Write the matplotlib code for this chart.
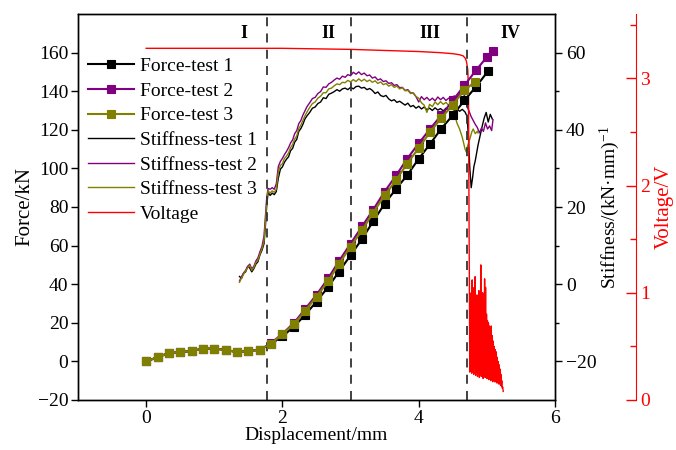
import numpy as np
import matplotlib
matplotlib.use('Agg')
import matplotlib.pyplot as plt

plt.rcParams['font.family'] = ['Liberation Serif', 'DejaVu Serif']
plt.rcParams['mathtext.fontset'] = 'custom'
plt.rcParams['mathtext.rm'] = 'Liberation Serif'
plt.rcParams['mathtext.it'] = 'Liberation Serif:italic'

# ---------------------------------------------------------------- data
# force curves (markers every ~1/6 mm)
x_f1 = [0, 0.17, 0.33, 0.5, 0.67, 0.83, 1.0, 1.17, 1.33, 1.5, 1.67, 1.83,
        2.0, 2.17, 2.33, 2.5, 2.67, 2.83, 3.0, 3.17, 3.33, 3.5, 3.67, 3.83,
        4.0, 4.17, 4.33, 4.5, 4.67, 4.84, 5.02]
force1 = [0, 2.2, 4.3, 4.8, 5.4, 6.6, 6.6, 6.0, 4.8, 5.4, 6.0, 9.0,
          13.0, 18.0, 24.0, 31.0, 38.5, 46.5, 55.0, 63.5, 72.5, 81.7, 89.5,
          96.4, 105.0, 112.8, 120.6, 127.5, 135.2, 142.3, 150.5]

x_f2 = [0, 0.17, 0.33, 0.5, 0.67, 0.83, 1.0, 1.17, 1.33, 1.5, 1.67, 1.83,
        2.0, 2.17, 2.33, 2.5, 2.67, 2.83, 3.0, 3.17, 3.33, 3.5, 3.67, 3.83,
        4.0, 4.17, 4.33, 4.5, 4.67, 4.84, 5.0, 5.09]
force2 = [0, 2.2, 4.3, 4.8, 5.4, 6.6, 6.6, 6.0, 4.8, 5.4, 6.0, 9.4,
          14.3, 20.0, 27.0, 34.5, 43.0, 52.0, 61.0, 70.0, 78.5, 88.0, 96.4,
          105.0, 113.0, 120.6, 127.5, 135.2, 143.0, 150.8, 157.7, 161.0]

x_f3 = [0, 0.17, 0.33, 0.5, 0.67, 0.83, 1.0, 1.17, 1.33, 1.5, 1.67, 1.83,
        2.0, 2.17, 2.33, 2.5, 2.67, 2.83, 3.0, 3.17, 3.33, 3.5, 3.67, 3.83,
        4.0, 4.17, 4.33, 4.5, 4.67, 4.83]
force3 = [0, 2.2, 4.3, 4.8, 5.4, 6.6, 6.6, 6.0, 4.8, 5.4, 6.0, 9.2,
          14.0, 19.5, 26.0, 33.5, 41.5, 50.5, 59.5, 68.0, 77.0, 86.0, 94.0,
          102.5, 110.5, 119.0, 126.0, 133.0, 140.5, 145.0]

# stiffness curves
x_s = [1.37, 1.40, 1.43, 1.46, 1.49, 1.52, 1.55, 1.58, 1.61, 1.64, 1.67,
       1.70, 1.73, 1.75, 1.77, 1.79, 1.82, 1.85, 1.88, 1.91, 1.94, 1.97,
       2.00, 2.03, 2.06, 2.09, 2.12, 2.15, 2.18, 2.21, 2.24, 2.27, 2.30,
       2.33, 2.36, 2.40, 2.44, 2.48, 2.52, 2.56, 2.60, 2.64, 2.68, 2.72,
       2.76, 2.80, 2.84, 2.88, 2.92, 2.96, 3.00, 3.04, 3.08, 3.12, 3.16,
       3.20, 3.24, 3.28, 3.32, 3.36, 3.40, 3.44, 3.48, 3.52, 3.56, 3.60,
       3.64, 3.68, 3.72, 3.76, 3.80, 3.84, 3.88, 3.92, 3.96, 4.00, 4.04,
       4.08, 4.12, 4.16, 4.20, 4.24, 4.28, 4.32, 4.36, 4.40, 4.44, 4.48,
       4.52, 4.56, 4.60, 4.64, 4.68]

stiff1_main = [2.0, 1.5, 2.8, 3.2, 4.6, 4.2, 3.2, 4.0, 5.2, 5.8, 7.6,
               8.8, 10.5, 15.0, 20.5, 23.8, 23.0, 23.6, 23.2, 24.0, 27.5, 29.8,
               30.4, 31.6, 32.4, 33.0, 34.6, 35.2, 36.8, 37.5, 39.6, 40.3, 41.4,
               42.8, 43.6, 44.5, 45.6, 45.9, 46.8, 47.2, 48.3, 48.1, 49.2, 49.5,
               49.9, 50.4, 50.0, 50.6, 50.8, 50.4, 51.0, 50.6, 51.2, 51.3, 50.8,
               51.0, 50.4, 50.7, 50.2, 49.4, 49.8, 48.9, 48.6, 48.9, 48.0, 47.5,
               47.8, 47.1, 47.4, 46.9, 46.4, 46.9, 46.0, 46.3, 45.6, 46.1, 45.4,
               45.9, 45.2, 45.6, 45.0, 45.7, 45.1, 45.5, 44.9, 45.6, 45.2, 45.8,
               45.0, 45.4, 44.8, 45.3, 44.6]
x_s1_end = [4.71, 4.73, 4.75, 4.77, 4.79, 4.81, 4.83, 4.85, 4.87, 4.90,
            4.93, 4.96, 4.99, 5.02, 5.05, 5.08]
stiff1_end = [43.5, 38.0, 30.0, 25.0, 27.5, 30.5, 32.0, 34.0, 36.0, 38.4,
              40.8, 43.0, 44.5, 42.0, 44.0, 42.8]

stiff2_main = [0.8, 2.0, 2.9, 3.6, 4.6, 5.2, 4.0, 4.6, 6.0, 6.8, 8.4,
               9.8, 12.5, 17.5, 22.5, 24.8, 24.6, 25.0, 24.6, 26.0, 30.5, 31.8,
               32.6, 33.6, 34.4, 35.4, 36.6, 37.4, 39.0, 39.8, 41.6, 42.4, 43.8,
               44.9, 46.0, 47.0, 48.1, 48.4, 49.4, 49.9, 51.1, 51.0, 51.9, 52.3,
               52.9, 53.4, 53.1, 53.9, 53.6, 54.3, 54.0, 54.9, 54.4, 55.0, 54.3,
               54.7, 54.0, 54.2, 53.4, 53.7, 52.9, 53.2, 52.5, 52.7, 52.0, 52.2,
               51.5, 51.7, 50.9, 51.0, 50.2, 50.4, 49.6, 49.5, 48.6, 47.2, 48.6,
               47.8, 48.4, 47.6, 48.2, 47.5, 48.5, 47.8, 48.4, 47.6, 48.2, 47.7,
               48.8, 48.3, 49.3, 49.9, 48.5]
x_s2_end = [4.71, 4.74, 4.77, 4.80, 4.83, 4.86, 4.89, 4.92, 4.95, 4.98,
            5.01, 5.04, 5.07, 5.09]
stiff2_end = [46.0, 44.8, 43.4, 42.4, 41.4, 40.6, 39.2, 40.4, 39.6, 41.8,
              40.2, 41.0, 39.8, 42.6]

stiff3_main = [0.5, 1.6, 2.6, 3.4, 4.3, 4.9, 3.6, 4.3, 5.6, 6.2, 7.8,
               9.2, 11.2, 16.0, 21.5, 24.2, 23.6, 24.2, 23.8, 24.6, 29.0, 30.8,
               31.2, 32.6, 33.2, 34.0, 35.4, 36.2, 37.6, 38.4, 40.3, 41.2, 42.4,
               43.6, 44.6, 45.8, 46.8, 47.2, 48.2, 48.7, 49.6, 49.6, 50.6, 50.8,
               51.4, 51.9, 51.7, 52.3, 52.2, 52.8, 52.4, 53.0, 52.5, 53.2, 52.6,
               53.1, 52.5, 52.9, 52.3, 52.7, 52.0, 52.4, 51.7, 52.0, 51.3, 51.7,
               51.0, 51.3, 50.6, 50.9, 50.1, 50.2, 49.4, 49.6, 48.6, 48.2, 47.0,
               46.4, 44.5, 46.6, 46.0, 47.2, 46.5, 47.3, 46.6, 47.1, 46.3, 46.8,
               44.5, 41.8, 40.2, 38.0, 35.0]
x_s3_end = [4.70, 4.72, 4.75, 4.78, 4.80, 4.83, 4.86, 4.87]
stiff3_end = [34.2, 36.0, 37.6, 39.5, 40.2, 39.0, 39.6, 39.2]

# voltage: flat level, sudden drop, then noisy tail
x_v = [0, 1.0, 2.0, 3.0, 3.5, 4.0, 4.3, 4.5, 4.6, 4.65, 4.68, 4.70, 4.72,
       4.73, 4.74, 4.750,
       4.757, 4.764, 4.771, 4.778, 4.785, 4.792, 4.799, 4.806, 4.813, 4.820,
       4.827, 4.834, 4.841, 4.848, 4.855, 4.862, 4.869, 4.876, 4.883, 4.890,
       4.897, 4.904, 4.911, 4.918, 4.925, 4.932, 4.939, 4.946, 4.953, 4.960,
       4.967, 4.974, 4.981, 4.988, 4.995, 5.002, 5.009, 5.016, 5.023, 5.030,
       5.037, 5.044, 5.051, 5.058, 5.065, 5.072, 5.079, 5.086, 5.093, 5.100,
       5.107, 5.114, 5.121, 5.128, 5.135, 5.142, 5.149, 5.156, 5.163, 5.170,
       5.177, 5.184, 5.191, 5.198, 5.205, 5.212, 5.219, 5.226, 5.233, 5.240]
voltage = [3.28, 3.28, 3.28, 3.27, 3.26, 3.25, 3.24, 3.23, 3.22, 3.21, 3.19,
           3.16, 3.08, 2.90, 1.50, 0.26,
           0.85, 0.30, 1.00, 0.25, 1.12, 0.28, 0.98, 0.24, 1.05, 0.30,
           1.15, 0.23, 0.88, 0.27, 0.98, 0.22, 0.82, 0.26, 1.02, 0.21,
           0.92, 0.25, 1.26, 0.22, 0.95, 0.24, 1.00, 0.20, 0.86, 0.25,
           1.13, 0.21, 1.05, 0.23, 0.80, 0.20, 0.74, 0.22, 0.72, 0.19,
           0.69, 0.21, 0.66, 0.18, 0.69, 0.20, 0.60, 0.17, 0.55, 0.19,
           0.50, 0.17, 0.47, 0.18, 0.45, 0.16, 0.40, 0.17, 0.36, 0.15,
           0.33, 0.16, 0.29, 0.14, 0.24, 0.13, 0.18, 0.11, 0.12, 0.08]

stage_edges = [1.78, 3.0, 4.71]
stage_names = ['I', 'II', 'III', 'IV']
stage_x = [1.44, 2.67, 4.16, 5.34]

C_BLACK, C_PURPLE, C_OLIVE, C_RED = '#000000', '#800080', '#808000', '#ff0000'

# ---------------------------------------------------------------- figure
fig = plt.figure(figsize=(6.76, 4.5), dpi=100)
ax = fig.add_axes([78 / 676, 1 - 400 / 450, 477 / 676, 386 / 450])
ax2 = ax.twinx()
ax3 = ax.twinx()

# stiffness (thin lines)
s1, = ax2.plot(x_s + x_s1_end, stiff1_main + stiff1_end, color=C_BLACK, lw=1.0)
s2, = ax2.plot(x_s + x_s2_end, stiff2_main + stiff2_end, color=C_PURPLE, lw=1.0)
s3, = ax2.plot(x_s + x_s3_end, stiff3_main + stiff3_end, color=C_OLIVE, lw=1.0)

# force (line + square markers)
mk = dict(marker='s', ms=5.5, mew=0.8, lw=1.5)
f1, = ax.plot(x_f1, force1, color=C_BLACK, mfc=C_BLACK, mec=C_BLACK, **mk)
f2, = ax.plot(x_f2, force2, color=C_PURPLE, mfc=C_PURPLE, mec=C_PURPLE, **mk)
f3, = ax.plot(x_f3, force3, color=C_OLIVE, mfc=C_OLIVE, mec=C_OLIVE, **mk)
ax.set_zorder(ax2.get_zorder() + 1)
ax.patch.set_visible(False)

# voltage
v1, = ax3.plot(x_v, voltage, color=C_RED, lw=1.0)

for xe in stage_edges:
    ax.axvline(xe, color='#333333', lw=1.3, ls=(0, (5, 4)), zorder=0)
for xs, name in zip(stage_x, stage_names):
    ax.text(xs, 170, name, ha='center', va='center', fontsize=13,
            fontweight='bold')

ax.set_xlim(-1, 6)
ax.set_ylim(-20, 180)
ax.set_xticks([0, 2, 4, 6])
ax.set_yticks(np.arange(-20, 161, 20))
ax.set_xlabel('Displacement/mm', fontsize=14, labelpad=0)
ax.set_ylabel('Force/kN', fontsize=15, labelpad=2)
ax.tick_params(axis='both', direction='out', length=5, width=1,
               labelsize=14, pad=2)
ax.tick_params(axis='y', right=False)

ax2.set_ylim(-30, 70)
ax2.set_yticks([-20, 0, 20, 40, 60])
ax2.set_yticks([-10, 10, 30, 50], minor=True)
ax2.tick_params(axis='y', which='major', direction='out', length=5,
                width=1, labelsize=14, pad=3)
ax2.tick_params(axis='y', which='minor', direction='out', length=3, width=1)
ax2.set_ylabel('Stiffness/(kN·mm)$^{-1}$', fontsize=14, labelpad=1)

ax3.set_ylim(0, 3.6)
ax3.set_yticks([0, 1, 2, 3])
ax3.set_yticks([0.5, 1.5, 2.5, 3.5], minor=True)
ax3.spines['right'].set_position(('axes', 1.17))
ax3.spines['right'].set_color(C_RED)
for side in ['top', 'bottom', 'left']:
    ax3.spines[side].set_visible(False)
ax3.tick_params(axis='y', which='major', direction='in', length=7, width=1,
                colors=C_RED, labelsize=14, pad=3)
ax3.tick_params(axis='y', which='minor', direction='in', length=4, width=1,
                colors=C_RED)
ax3.set_ylabel('Voltage/V', color=C_RED, fontsize=15, labelpad=3)

for a in (ax, ax2):
    for sp in a.spines.values():
        sp.set_linewidth(1.0)

handles = [f1, f2, f3, s1, s2, s3, v1]
labels = ['Force-test 1', 'Force-test 2', 'Force-test 3', 'Stiffness-test 1',
          'Stiffness-test 2', 'Stiffness-test 3', 'Voltage']
ax3.legend(handles, labels, loc='upper left', bbox_to_anchor=(0.02, 0.887),
           frameon=False, fontsize=14, handlelength=2.4, handletextpad=0.3,
           labelspacing=0.36, borderaxespad=0, borderpad=0, numpoints=1)

fig.savefig('out.png', dpi=100)
